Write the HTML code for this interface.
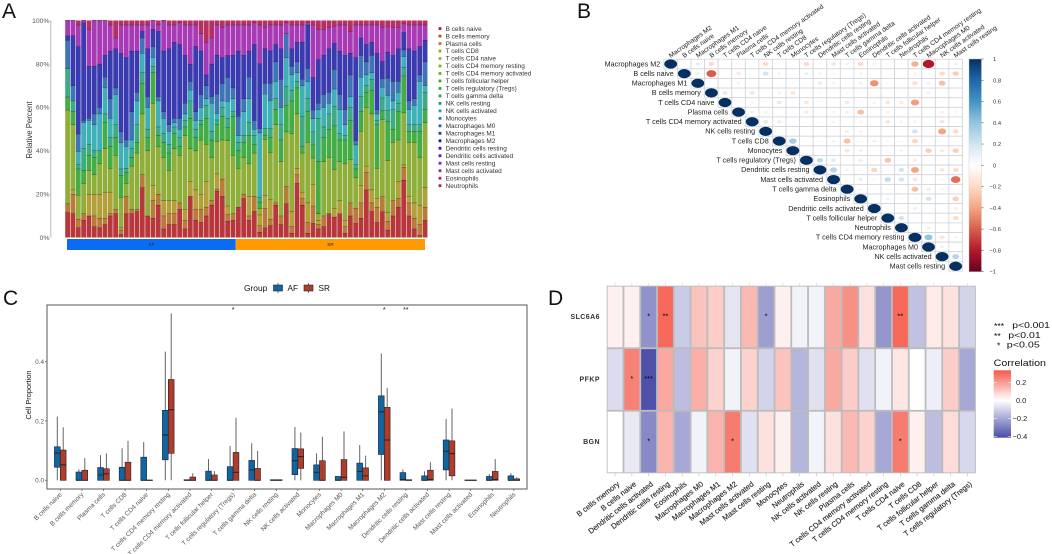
<!DOCTYPE html>
<html lang="en">
<head>
<meta charset="utf-8">
<title>Immune cell infiltration figure</title>
<style>
html,body{margin:0;padding:0;background:#fff;width:1052px;height:554px;overflow:hidden}
svg{display:block;filter:blur(.35px);font-family:"Liberation Sans",sans-serif}
</style>
</head>
<body>
<svg id="fig" xmlns="http://www.w3.org/2000/svg" width="1052" height="554" viewBox="0 0 1052 554">
<defs>
<linearGradient id="gradB" x1="0" y1="0" x2="0" y2="1">
<stop offset="0" stop-color="#053061"/><stop offset=".1" stop-color="#2166ac"/><stop offset=".2" stop-color="#4393c3"/><stop offset=".3" stop-color="#92c5de"/><stop offset=".4" stop-color="#d1e5f0"/><stop offset=".5" stop-color="#ffffff"/><stop offset=".6" stop-color="#fddbc7"/><stop offset=".7" stop-color="#f4a582"/><stop offset=".8" stop-color="#d6604d"/><stop offset=".9" stop-color="#b2182b"/><stop offset="1" stop-color="#67001f"/>
</linearGradient>
<linearGradient id="gradD" x1="0" y1="0" x2="0" y2="1">
<stop offset="0" stop-color="#f4594a"/><stop offset=".445" stop-color="#ffffff"/><stop offset="1" stop-color="#4a4ca8"/>
</linearGradient>
</defs>
</svg>
<script>
// ---------- Panel A data: stacked percent per sample ----------
const sampleGroups = ["AF", "SR"];
const sampleCountAF = 32;
const stackTicks = [0, 20, 40, 60, 80, 100];
const legendNames = ["B cells naive","B cells memory","Plasma cells","T cells CD8","T cells CD4 naive","T cells CD4 memory resting","T cells CD4 memory activated","T cells follicular helper","T cells regulatory (Tregs)","T cells gamma delta","NK cells resting","NK cells activated","Monocytes","Macrophages M0","Macrophages M1","Macrophages M2","Dendritic cells resting","Dendritic cells activated","Mast cells resting","Mast cells activated","Eosinophils","Neutrophils"];
const legendColors = ["#a82030","#b8502a","#b87a2a","#a8a028","#a0ac30","#80ac30","#60b030","#40a830","#30a840","#20a060","#209880","#20a0a8","#2080b0","#2060a8","#2040a0","#201890","#3818a0","#6018a0","#9020a0","#a02090","#b02070","#b02040"];
const bandColors = ["#b8373c","#b97a3c","#b3a03a","#8fae3a","#45ad45","#3fab85","#3fb0b8","#3f75b5","#3b3bb0","#a83ab5","#b53060"];
const bandBCellsNaive = [11.5,11,4.5,8,10,5,4.5,6,10,11,1.5,11,11,12,23,10,9,15,4,6,6,13,4,19,8,7,10,15,21.5,19,7.5,8,14,18,8,12,2.5,4.5,5.5,15,6,15.5,2,25,15,2,6.5,4,5,11,9.5,11,2,10,6.5,9,22,12,7,12,3.5,10,14,26.5,10,4,1,8];
const bandPlasmaCells = [4,9,4,3,0,5,4.5,3,1,2,2,8,2,1,6,0,8,5,6,5,5,3,4,0,5,6,4,2,1,8,3,3,0,2,2,7,3,9,3,1,4,8,3,4,3,5,8,2,5,0,0,0,3,6,7,7,8,4,7,7,4,7,4,6,6,5,5,6];
const bandTCellsCD8 = [0,2,0,0,10,10,11,12,10,0,1,0,0,0,0,0,7,0,7,6,6,0,5,7,9,7,12,0,7,0,4,0,0,0,9,0,5,6,9,0,0,0,7,3,3,9,10,2,0,0,4,6,3,0,0,8,3,6,4,0,4,0,8,1,3,7,9,9];
const bandCD4Resting = [43,30,11,14,11,9,14,20,11,25,14,6,20,26,28,30,38,22,20,14,24,22,34,15,18,25,17,20,15,18,30,27,18,17,15,20,3,26,22,36,25,25,36,25,18,28,12,3,25,26,18,18,26,20,14,25,27,35,14,36,24,27,19,24,25,28,22,30];
const bandTregs = [6,6,12,6,7,8,6,12,10,8,10,5,4,5,14,6,14,5,7,8,7,4,4,14,6,7,12,8,8,11,6,18,8,7,13,4,3,2,7,7,10,12,15,12,3,14,6,24,11,13,20,10,11,18,4,9,7,11,20,4,18,6,13,17,5,5,12,6];
const bandNKResting = [13,5,2,10,5,3,0,4,4,6,3,2,4,8,5,4,3,4,4,4,3,4,3,8,4,2,6,4,2,4,4,2,4,3,6,4,2,3,4,5,7,9,5,3,14,6,6,20,5,7,9,3,2,6,2,7,3,5,2,6,5,9,4,4,3,3,3,8];
const bandNKActivated = [0,0,6,12,11,12,17,12,9,14,12,10,4,11,9,10,4,12,7,6,2,4,3,5,4,6,3,13,3,3,8,6,3,11,11,3,30,16,13,8,8,13,7,4,14,8,6,4,9,5,8,11,5,5,9,9,5,3,3,5,7,4,5,5,7,9,20,3];
const bandMacrophagesM0 = [13,7,8,1,1,5,3,5,9,3,5,3,13,4,7,5,5,2,3,3,2,5,5,4,4,6,6,3,9,8,11,5,9,6,10,4,2,5,8,9,13,11,4,5,3,6,4,3,6,5,9,7,7,10,2,10,6,8,2,4,8,9,5,3,4,3,3,11];
const bandMacrophagesM2 = [2,23,40,45,24,22,20,10,22,18,36,38,28,19,3,22,8,30,28,35,35,34,22,8,30,20,5,15,18,12,10,15,30,20,12,35,30,16,15,8,14,0,8,9,17,20,15,20,18,20,12,20,25,10,38,8,8,6,26,8,12,12,15,8,24,22,13,10];
const bandMastResting = [7,7,10,1,17,21,20,16,12,5,13,15,12,12,3,11,4,3,14,11,8,10,14,18,10,8,15,12,14,14,14,14,12,14,12,10,18,10,12,9,11,5,11,8,8,1,24,14,12,10,8,12,14,10,15,6,9,8,13,16,12,13,10,4,11,12,10,7];
const bandNeutrophils = [0,0,2,0,4,0,0,0,2,8,2,2,2,2,2,2,0,2,0,2,2,1,2,2,2,6,10,8,2,3,2,2,2,2,2,1,2,3,2,2,2,1,2,2,2,1,2,4,4,3,2.5,2,2,5,2,2,2,2,2,3,2.5,3,3,1.5,2,2,2,2];

// ---------- Panel B data: correlation matrix, upper triangle by row ----------
const corrLabels = ["Macrophages M2","B cells naive","Macrophages M1","B cells memory","T cells CD4 naive","Plasma cells","T cells CD4 memory activated","NK cells resting","T cells CD8","Monocytes","T cells regulatory (Tregs)","Dendritic cells resting","Mast cells activated","T cells gamma delta","Eosinophils","Dendritic cells activated","T cells follicular helper","Neutrophils","T cells CD4 memory resting","Macrophages M0","NK cells activated","Mast cells resting"];
const corrUpperRows = [
[0,.12,-.2,-.03,-.05,0,-.2,-.05,0,-.2,-.05,-.15,.08,-.2,-.08,-.04,-.05,-.35,-.8,-.06,.1],
[.1,-.6,0,-.12,0,.2,-.08,0,.1,.08,.05,.01,-.08,-.03,-.02,-.02,-.08,-.05,-.2,-.25],
[-.03,-.02,-.08,.01,-.02,-.02,-.03,.04,.12,.08,.02,-.1,-.45,.05,-.05,-.18,-.1,-.3,0],
[.15,0,.15,0,.08,-.15,0,.05,-.03,-.04,-.04,0,-.02,0,0,.1,0,0],
[0,.06,0,-.15,-.03,-.15,0,-.03,.12,0,.08,-.15,-.12,-.42,0,0,-.02],
[.1,.08,0,0,-.12,-.05,-.08,-.1,-.3,0,-.08,0,0,0,.08,.06],
[.15,-.12,-.01,-.02,.03,-.08,-.02,-.08,0,-.15,.08,-.08,0,-.15,0],
[0,.02,0,0,-.02,-.1,-.08,0,0,-.05,.2,-.02,-.4,-.2],
[.35,-.01,.02,.08,-.3,-.05,-.1,-.05,-.05,-.22,0,0,0],
[0,0,.05,-.15,.1,0,-.04,-.08,-.05,-.25,-.12,-.25],
[.25,.15,-.02,-.12,-.06,-.28,-.03,-.12,-.02,-.03,0],
[.3,.08,.05,-.22,.05,.2,-.4,0,-.15,-.2],
[.01,.12,.06,.25,.2,-.15,0,-.06,-.55],
[.06,-.03,0,0,-.3,-.12,-.08,0],
[0,.08,-.05,.05,.2,0,-.25],
[.05,.05,.1,0,0,-.1],
[.2,0,0,0,-.2],
[-.03,-.1,0,0],
[.4,-.15,-.08],
[.1,0],
[.3],
[]
];
const corrBarTicks = [1,.8,.6,.4,.2,0,-.2,-.4,-.6,-.8,-1];

// ---------- Panel C data: boxplots ----------
const boxCategories = ["B cells naive","B cells memory","Plasma cells","T cells CD8","T cells CD4 naive","T cells CD4 memory resting","T cells CD4 memory activated","T cells follicular helper","T cells regulatory (Tregs)","T cells gamma delta","NK cells resting","NK cells activated","Monocytes","Macrophages M0","Macrophages M1","Macrophages M2","Dendritic cells resting","Dendritic cells activated","Mast cells resting","Mast cells activated","Eosinophils","Neutrophils"];
const afQ1 = [.044,0,0,0,0,.069,0,0,0,0,0,.019,0,0,0,.087,0,0,.035,0,0,0];
const afMedian = [.092,0,.018,0,0,.153,0,0,0,.035,0,.066,.027,0,.03,.231,.003,0,.098,0,0,0];
const afQ3 = [.113,.028,.043,.044,.078,.236,.002,.031,.046,.067,.002,.107,.052,.013,.058,.285,.026,.015,.136,.001,.013,.015];
const afHigh = [.215,.037,.085,.108,.129,.434,.002,.072,.116,.125,.002,.18,.091,.013,.119,.428,.037,.03,.207,.001,.021,.024];
const srQ1 = [0,0,0,0,0,.091,0,0,0,0,0,.04,0,0,0,0,0,0,.015,0,0,0];
const srMedian = [.052,0,.022,0,0,.238,0,0,.027,0,0,.08,0,.01,.015,.136,0,.003,.09,0,.003,0];
const srQ3 = [.102,.034,.039,.061,.001,.34,.011,.018,.094,.04,.002,.106,.066,.07,.042,.246,.002,.034,.133,.001,.03,.005];
const srHigh = [.179,.075,.091,.133,.001,.563,.024,.031,.211,.099,.002,.161,.147,.165,.083,.311,.002,.061,.242,.001,.072,.01];
const boxSignificance = ["","","","","","","","","*","","","","","","","*","**","","","","",""];
const boxTicks = [0, .2, .4];

// ---------- Panel D data: gene / cell correlation heatmap ----------
const heatGenes = ["SLC6A6","PFKP","BGN"];
const heatCells = ["B cells memory","B cells naive","Dendritic cells activated","Dendritic cells resting","Eosinophils","Macrophages M0","Macrophages M1","Macrophages M2","Mast cells activated","Mast cells resting","Monocytes","Neutrophils","NK cells activated","NK cells resting","Plasma cells","T cells CD4 memory activated","T cells CD4 memory resting","T cells CD4 naive","T cells CD8","T cells follicular helper","T cells gamma delta","T cells regulatory (Tregs)"];
const heatSLC6A6 = [.03,.03,-.25,.30,-.12,.12,.1,-.06,.14,-.22,.03,-.03,-.03,.17,.22,.06,-.24,.30,-.14,.04,.06,-.1];
const heatPFKP = [-.08,.25,-.40,.17,-.15,.16,.09,-.03,.09,-.1,.12,-.17,-.07,.17,.1,-.07,-.03,.05,0,-.04,.1,-.2];
const heatBGN = [0,-.05,-.27,.15,-.2,-.03,.15,.26,-.07,.06,.03,-.17,-.03,.06,.14,.09,-.2,.26,.03,-.15,.07,-.09];
const starsSLC6A6 = ["","","*","**","","","","","","*","","","","","","","","**","","","",""];
const starsPFKP = ["","*","***","","","","","","","","","","","","","","","","","","",""];
const starsBGN = ["","","*","","","","","*","","","","","","","","","","*","","","",""];
const heatBarTicks = [.2, 0, -.2, -.4];
const pLegendStars = ["***","**","*"];
const pLegendText = ["p<0.001","p<0.01","p<0.05"];

// ---------- Helpers ----------
const NS = "http://www.w3.org/2000/svg";
const fig = document.getElementById("fig");
function make(tag, attrs, parent, txt) {
  const el = document.createElementNS(NS, tag);
  for (const k in attrs) el.setAttribute(k, attrs[k]);
  if (txt !== undefined) el.textContent = txt;
  (parent || fig).appendChild(el);
  return el;
}
function group(name) {
  const g = make("g", {});
  
  
  return g;
}
function hexMix(a, b, t) {
  const p = h => [1, 3, 5].map(i => parseInt(h.substr(i, 2), 16));
  const A = p(a), B = p(b);
  return "rgb(" + A.map((v, i) => Math.round(v + (B[i] - v) * t)).join(",") + ")";
}

// ---------- Panel letters ----------
const panelLetters = [["A",2,18],["B",577,18],["C",3,305],["D",548,305]];
panelLetters.forEach(p => {
  const t = make("text", {x: p[1], y: p[2], "font-size": 21, fill: "#111"}, fig, p[0]);
  
  
});

// ---------- Panel A ----------
const gA = group("stacked-bar-chart");
const aY = pct => 237.5 - pct / 100 * 217;
const aX = i => 65.2 + i * 5.335;
const bands = [bandBCellsNaive, bandPlasmaCells, bandTCellsCD8, bandCD4Resting, bandTregs, bandNKResting, bandNKActivated, bandMacrophagesM0, bandMacrophagesM2, bandMastResting, bandNeutrophils];
const axisA = make("line", {x1: 50.8, x2: 50.8, y1: 20.5, y2: 237.5, stroke: "#c4c4c4", "stroke-width": 1.2}, gA);


stackTicks.forEach(v => {
  const t = make("text", {x: 49.5, y: aY(v) + 2.4, "text-anchor": "end", "font-size": 6.8, fill: "#555"}, gA, v + "%");
  
  
});
const titleA = make("text", {transform: "translate(32,130) rotate(-90)", "text-anchor": "middle", "font-size": 7.8, fill: "#333"}, gA, "Relative Percent");


for (let i = 0; i < bandBCellsNaive.length; i++) {
  const total = bands.reduce((s, b) => s + b[i], 0);
  let cum = 0;
  bands.forEach((b, j) => {
    const v = b[i] / total * 100;
    const y1 = aY(cum), y2 = aY(cum + v);
    cum += v;
    if (v <= 0) return;
    const r = make("rect", {x: aX(i), y: y2, width: 4.8, height: y1 - y2, fill: bandColors[j]}, gA);
    
    
    if (j < bands.length - 1) {
      const s = make("line", {x1: aX(i), x2: aX(i) + 4.8, y1: y2, y2: y2, stroke: "#111", "stroke-width": .65, opacity: .85}, gA);
      
      
    }
  });
}
const annW = 5.335;
const annAF = make("rect", {x: 67, y: 239, width: sampleCountAF * annW - 2, height: 11, fill: "#0a6cf2"}, gA);


const annSR = make("rect", {x: 67 + sampleCountAF * annW - 2, y: 239, width: 425 - (67 + sampleCountAF * annW - 2), height: 11, fill: "#ff9a00"}, gA);


const annTxtAF = make("text", {x: 151.5, y: 246, "text-anchor": "middle", "font-size": 4.6, fill: "#222"}, gA, sampleGroups[0]);


const annTxtSR = make("text", {x: 330.5, y: 246, "text-anchor": "middle", "font-size": 4.6, fill: "#222"}, gA, sampleGroups[1]);


legendNames.forEach((n, i) => {
  const y = 28.6 + i * 7.48;
  const sw = make("rect", {x: 438.6, y: y - 1.4, width: 2.8, height: 2.8, fill: legendColors[i]}, gA);
  
  
  const t = make("text", {x: 445.6, y: y + 2.2, "font-size": 6.45, fill: "#333"}, gA, n);
  
  
});

// ---------- Panel B ----------
const gB = group("correlation-matrix");
const cbX = k => 670.7 + k * 13.57;
const cbY = r => 64 + r * 9.63;
const rdbuStops = ["#67001f","#b2182b","#d6604d","#f4a582","#fddbc7","#ffffff","#d1e5f0","#92c5de","#4393c3","#2166ac","#053061"];
function rdbu(v) {
  const p = (v + 1) / 2 * 10, i = Math.min(9, Math.floor(p));
  return hexMix(rdbuStops[i], rdbuStops[i + 1], p - i);
}
corrLabels.forEach((n, r) => {
  for (let k = r; k < corrLabels.length; k++) {
    const c = make("rect", {x: cbX(k) - 6.785, y: cbY(r) - 4.815, width: 13.57, height: 9.63, fill: "#fff", stroke: "#d0d3d8", "stroke-width": .8}, gB);
    
    
  }
});
corrLabels.forEach((n, r) => {
  const diag = make("ellipse", {cx: cbX(r), cy: cbY(r), rx: 6.4, ry: 4.6, fill: rdbu(1)}, gB);
  
  
  corrUpperRows[r].forEach((v, idx) => {
    if (v === 0) return;
    const k = r + 1 + idx, s = Math.sqrt(Math.abs(v));
    const e = make("ellipse", {cx: cbX(k), cy: cbY(r), rx: 6.4 * s, ry: 4.6 * s, fill: rdbu(v)}, gB);
    
    
  });
  const lab = make("text", {x: cbX(r) - 10.5, y: cbY(r) + 2.3, "text-anchor": "end", "font-size": 7.2, fill: "#222"}, gB, n);
  
  
  const top = make("text", {transform: "translate(" + cbX(r) + ",58) rotate(-35)", "font-size": 6.6, fill: "#222"}, gB, n);
  
  
});
const barB = make("rect", {x: 969, y: 59, width: 12.5, height: 212.7, fill: "url(#gradB)", stroke: "#ccc", "stroke-width": .4}, gB);


corrBarTicks.forEach(v => {
  const y = 165.3 - v * 106.3;
  const tk = make("line", {x1: 981.5, x2: 983.5, y1: y, y2: y, stroke: "#444", "stroke-width": .6}, gB);
  
  
  const t = make("text", {x: v < 0 ? 989.5 : 993, y: y + 2, "font-size": 5.8, fill: "#333"}, gB, String(v).replace("-", "\u2212"));
  
  
});

// ---------- Panel C ----------
const gC = group("boxplot-chart");
const cX = i => 60.3 + i * 21.6;
const cY = v => 480.3 - v * 296.5;
const frameC = make("rect", {x: 47, y: 305, width: 480, height: 184, fill: "#fff", stroke: "#666", "stroke-width": 1.1}, gC);


boxTicks.forEach(v => {
  const tk = make("line", {x1: 45, x2: 47, y1: cY(v), y2: cY(v), stroke: "#555", "stroke-width": .7}, gC);
  
  
  const t = make("text", {x: 44, y: cY(v) + 2.3, "text-anchor": "end", "font-size": 6.4, fill: "#555"}, gC, v.toFixed(1));
  
  
});
const titleC = make("text", {transform: "translate(31,395) rotate(-90)", "text-anchor": "middle", "font-size": 7.4, fill: "#111"}, gC, "Cell Proportion");


function drawBox(cx, q1, med, q3, hi, fill, label) {
  const w = make("line", {x1: cx, x2: cx, y1: cY(0), y2: cY(hi), stroke: "#666", "stroke-width": 1}, gC);
  
  
  const b = make("rect", {x: cx - 2.9, y: cY(q3), width: 5.8, height: Math.max(.4, cY(q1) - cY(q3)), fill: fill, stroke: "#1c2430", "stroke-width": .6}, gC);
  
  
  const m = make("line", {x1: cx - 2.9, x2: cx + 2.9, y1: cY(med), y2: cY(med), stroke: "#1c2430", "stroke-width": 1}, gC);
  
  
}
boxCategories.forEach((n, i) => {
  drawBox(cX(i) - 3, afQ1[i], afMedian[i], afQ3[i], afHigh[i], "#12669f", "af");
  drawBox(cX(i) + 2.9, srQ1[i], srMedian[i], srQ3[i], srHigh[i], "#b03c2a", "sr");
  const tk = make("line", {x1: cX(i), x2: cX(i), y1: 489, y2: 491, stroke: "#555", "stroke-width": .7}, gC);
  
  
  const t = make("text", {transform: "translate(" + (cX(i) + 2) + ",495) rotate(-45)", "text-anchor": "end", "font-size": 6.5, fill: "#555"}, gC, n);
  
  
  if (boxSignificance[i]) {
    const s = make("text", {x: cX(i), y: 312, "text-anchor": "middle", "font-size": 7, fill: "#111"}, gC, boxSignificance[i]);
    
    
  }
});
const legTitle = make("text", {x: 244, y: 291, "font-size": 8.4, fill: "#111"}, gC, "Group");


[["AF", 273.5, 287.5, "#12669f"], ["SR", 304, 318.5, "#b03c2a"]].forEach(L => {
  const w = make("line", {x1: L[1] + 4.5, x2: L[1] + 4.5, y1: 283, y2: 293, stroke: "#333", "stroke-width": .7}, gC);
  
  
  const k = make("rect", {x: L[1], y: 285, width: 9, height: 6, fill: L[3], stroke: "#1c2430", "stroke-width": .6}, gC);
  
  
  const t = make("text", {x: L[2], y: 291, "font-size": 8.2, fill: "#111"}, gC, L[0]);
  
  
});

// ---------- Panel D ----------
const gD = group("correlation-heatmap");
const dL = 606.7, dT = 285.7, dCW = 16.78, dRH = 62.53;
function heatColor(v) {
  return v >= 0 ? hexMix("#ffffff", "#f4594a", Math.min(1, v / .33)) : hexMix("#ffffff", "#4a4ca8", Math.min(1, -v / .41));
}
const frameD = make("rect", {x: dL, y: dT, width: dCW * heatCells.length, height: dRH * heatGenes.length, fill: "#bcbcbc"}, gD);


const heatValues = [heatSLC6A6, heatPFKP, heatBGN];
const heatStars = [starsSLC6A6, starsPFKP, starsBGN];
heatGenes.forEach((g, r) => {
  heatCells.forEach((c, k) => {
    const cell = make("rect", {x: dL + k * dCW + .9, y: dT + r * dRH + .9, width: dCW - 1.8, height: dRH - 1.8, fill: heatColor(heatValues[r][k])}, gD);
    
    
    if (heatStars[r][k]) {
      const s = make("text", {x: dL + (k + .5) * dCW, y: dT + (r + .5) * dRH + 1.5, "text-anchor": "middle", "font-size": 7.5, fill: "#000"}, gD, heatStars[r][k]);
      
      
    }
  });
  const lab = make("text", {x: 600, y: dT + (r + .5) * dRH + 2, "text-anchor": "end", "font-size": 7, "font-weight": "bold", "letter-spacing": ".45", fill: "#333"}, gD, g);
  
  
});
heatCells.forEach((c, k) => {
  const x = dL + (k + .5) * dCW;
  const tTop = make("line", {x1: x, x2: x, y1: dT - 2.5, y2: dT, stroke: "#ccc", "stroke-width": .6}, gD);
  
  
  const tBot = make("line", {x1: x, x2: x, y1: dT + 187.6, y2: dT + 190.5, stroke: "#bbb", "stroke-width": .6}, gD);
  
  
  const t = make("text", {transform: "translate(" + (x + 5) + ",485) rotate(-38)", "text-anchor": "end", "font-size": 7.6, fill: "#222", stroke: "#222", "stroke-width": ".12"}, gD, c);
  
  
});
const pX = [994, 994, 997], pTx = [1012.3, 1008.3, 1006.8], pY = [328, 338, 347.5], pW = [37.6, 32.4, 33];
pLegendStars.forEach((s, i) => {
  const a = make("text", {x: pX[i], y: pY[i] + 1, "font-size": 8.6, fill: "#000"}, gD, s);
  
  
  const b = make("text", {x: pTx[i], y: pY[i], "font-size": 8, textLength: pW[i], lengthAdjust: "spacingAndGlyphs", fill: "#111"}, gD, pLegendText[i]);
  
  
});
const corrTitle = make("text", {x: 993.7, y: 366, "font-size": 9.2, textLength: 52.3, lengthAdjust: "spacingAndGlyphs", fill: "#111"}, gD, "Correlation");


const barD = make("rect", {x: 993.7, y: 370.3, width: 17.3, height: 67.4, fill: "url(#gradD)"}, gD);


heatBarTicks.forEach(v => {
  const y = 400.3 - v * 90;
  const ta = make("line", {x1: 993.7, x2: 997, y1: y, y2: y, stroke: "#fff", "stroke-width": .5}, gD);
  
  
  const tb = make("line", {x1: 1007.7, x2: 1011, y1: y, y2: y, stroke: "#fff", "stroke-width": .5}, gD);
  
  
  const t = make("text", {x: v < 0 ? 1012.6 : 1016, y: y + 2.6, "font-size": 7.4, fill: "#222"}, gD, (v < 0 ? "\u2212" : "") + Math.abs(v).toFixed(1));
  
  
});
</script>
</body>
</html>
